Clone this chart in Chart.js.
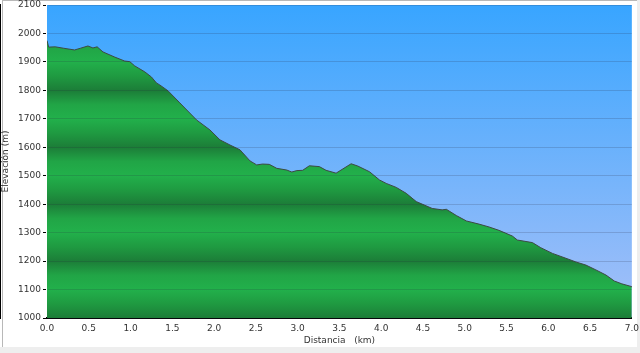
<!DOCTYPE html>
<html>
<head>
<meta charset="utf-8">
<script src="https://cdn.jsdelivr.net/npm/chart.js@4"></script>
<style>
  html, body { margin: 0; padding: 0; background: #fff; }
  #wrap { width: 640px; height: 353px; }
</style>
</head>
<body>
<div id="wrap"><canvas id="profile" width="640" height="353"></canvas></div>
<script>
// distance (km) and elevation (m)
const distKm = [0.00, 0.02, 0.10, 0.20, 0.33, 0.40, 0.49, 0.55, 0.60, 0.67, 0.81, 0.93, 0.99,
    1.05, 1.17, 1.25, 1.31, 1.35, 1.45, 1.59, 1.79, 1.95, 2.07, 2.19, 2.31, 2.43, 2.51, 2.58,
    2.66, 2.75, 2.87, 2.93, 2.99, 3.06, 3.14, 3.26, 3.34, 3.46, 3.64, 3.72, 3.86, 3.98, 4.06,
    4.18, 4.30, 4.42, 4.61, 4.73, 4.78, 4.90, 5.02, 5.17, 5.29, 5.41, 5.57, 5.63, 5.81, 5.91,
    6.05, 6.21, 6.33, 6.45, 6.57, 6.69, 6.79, 6.88, 6.99, 7.00];
const elevM = [1975, 1952, 1953, 1948, 1942, 1948, 1956, 1949, 1953, 1935, 1917, 1903, 1901,
    1886, 1865, 1847, 1826, 1819, 1798, 1756, 1696, 1661, 1626, 1608, 1591, 1552, 1538, 1541,
    1540, 1526, 1520, 1513, 1518, 1519, 1535, 1532, 1519, 1509, 1542, 1534, 1514, 1485, 1473,
    1459, 1438, 1409, 1385, 1380, 1382, 1360, 1341, 1330, 1320, 1308, 1288, 1274, 1265, 1247,
    1227, 1210, 1197, 1186, 1169, 1151, 1130, 1120, 1111, 1109];

const xTitle = "Distancia   (km)";
const yTitle = "Elevación (m)";

const points = distKm.map((d, i) => ({ x: d, y: elevM[i] }));

const axisFont = { family: "DejaVu Sans", size: 9 };

// page frame + sky gradient behind the plot
const backdrop = {
    id: "backdrop",
    beforeDraw(chart) {
        const c = chart.ctx;
        const a = chart.chartArea;
        c.save();
        c.fillStyle = "#ffffff";
        c.fillRect(0, 0, chart.width, chart.height);
        c.fillStyle = "#eeeeee";
        c.fillRect(0, 347, chart.width, chart.height - 347);
        c.fillRect(637, 0, 3, 347);
        c.fillStyle = "#b8b8b8";
        c.fillRect(2, 0, 1, 347);
        c.fillRect(3, 0, 634, 1);
        const g = c.createLinearGradient(0, a.top, 0, a.bottom);
        g.addColorStop(0, "#38a5ff");
        g.addColorStop(1, "#a6c0f8");
        c.fillStyle = g;
        c.fillRect(a.left, a.top, a.right - a.left, a.bottom - a.top);
        c.restore();
    }
};

// banded green: bright at odd hundreds, dark at even hundreds
function groundFill(context) {
    const chart = context.chart;
    const y = chart.scales.y;
    if (!y || !chart.chartArea) return "#22b14c";
    const top = y.getPixelForValue(2100);
    const bot = y.getPixelForValue(1000);
    const g = chart.ctx.createLinearGradient(0, top, 0, bot);
    for (let v = 2100; v >= 1000; v -= 50) {
        const t = (2100 - v) / 1100;
        let col;
        if (v % 200 === 0) col = "#1c7d38";
        else if (v % 100 === 0) col = "#22b04b";
        else if (v % 200 === 150) col = "#21a546";
        else col = "#1f9a41";
        g.addColorStop(t, col);
    }
    return g;
}

new Chart(document.getElementById("profile"), {
    type: "line",
    data: {
        datasets: [{
            data: points,
            borderColor: "#3d4a45",
            borderWidth: 1,
            pointRadius: 0,
            tension: 0,
            fill: "start",
            backgroundColor: groundFill
        }]
    },
    plugins: [backdrop],
    options: {
        responsive: false,
        animation: false,
        layout: { padding: { top: 1, right: 7, left: 0, bottom: 7 } },
        plugins: { legend: { display: false }, tooltip: { enabled: false } },
        scales: {
            x: {
                type: "linear",
                min: 0,
                max: 7,
                ticks: {
                    stepSize: 0.5,
                    color: "#333",
                    font: axisFont,
                    padding: 1,
                    maxRotation: 0,
                    callback: v => v.toFixed(1)
                },
                grid: { display: false, drawOnChartArea: false, drawTicks: true, tickLength: 4, tickColor: "#000" },
                border: { display: true, color: "#000", width: 2 },
                title: { display: true, text: xTitle, color: "#333", font: axisFont, padding: { top: 2, bottom: 0 } },
                afterFit(scale) { scale.height = 28; }
            },
            y: {
                min: 1000,
                max: 2100,
                ticks: { stepSize: 100, color: "#333", font: axisFont, padding: 2, callback: v => String(v) },
                grid: {
                    color: "rgba(40,40,60,0.18)",
                    lineWidth: 1,
                    tickLength: 4,
                    tickColor: "#000",
                    z: 1
                },
                border: { display: true, color: "#000", width: 2 },
                title: { display: true, text: yTitle, color: "#333", font: axisFont, padding: { top: 0, bottom: 2 } },
                afterFit(scale) { scale.width = 47; scale.paddingTop = 5; scale.paddingBottom = 0; }
            }
        }
    }
});
</script>
</body>
</html>
